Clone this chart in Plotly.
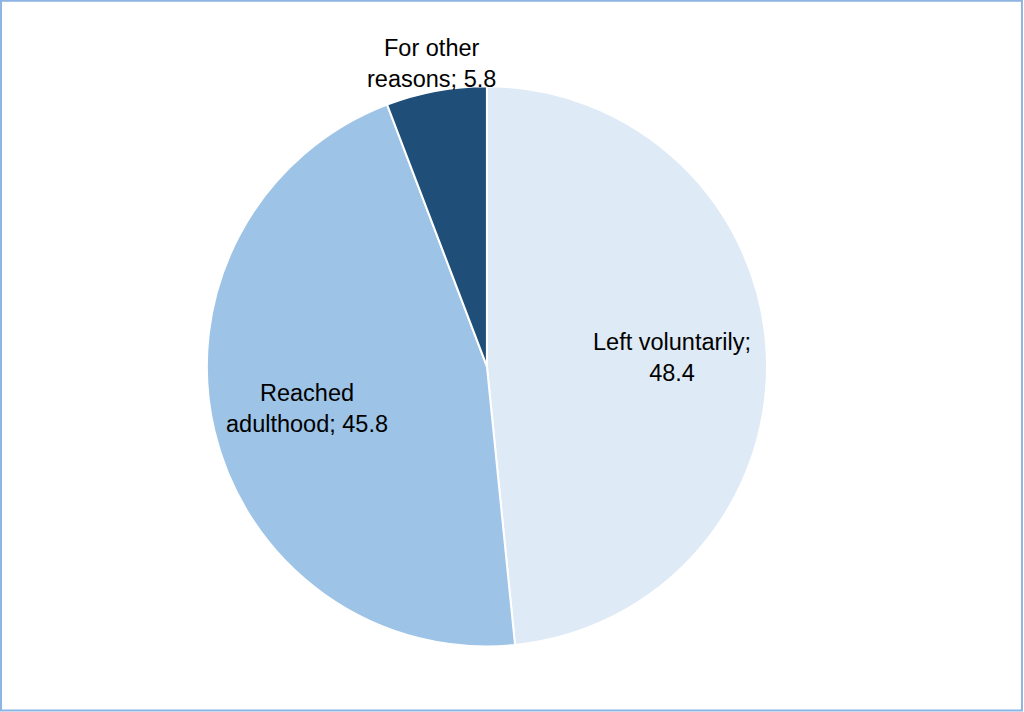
import math
import plotly.graph_objects as go

# shares of young people leaving care, by reason
reasons = ["Left voluntarily", "Reached adulthood", "For other reasons"]
shares = [48.4, 45.8, 5.8]
slice_labels = ["Left voluntarily;<br>48.4", "Reached<br>adulthood; 45.8", "For other<br>reasons; 5.8"]
colors = ["#DEEAF6", "#9DC3E6", "#1F4E79"]
label_dist = [0.66, 0.66, 1.10]  # label distance from centre, in pie radii

W, H = 1024, 712
dom_x = [0.202, 0.749]
dom_y = [0.092, 0.879]

fig = go.Figure(go.Pie(
    labels=reasons,
    values=shares,
    textinfo="none",
    sort=False,
    direction="clockwise",
    rotation=0,
    marker=dict(colors=colors, line=dict(color="white", width=2)),
    hoverinfo="label+value",
    showlegend=False,
    domain=dict(x=dom_x, y=dom_y),
))

# place the labels like excel does: along each slice's mid angle
cx = sum(dom_x) / 2
cy = sum(dom_y) / 2
r_px = min((dom_x[1] - dom_x[0]) * W, (dom_y[1] - dom_y[0]) * H) / 2
total = sum(shares)
start = 0
for lab, val, d in zip(slice_labels, shares, label_dist):
    mid = (start + val / 2) / total * 2 * math.pi
    start += val
    fig.add_annotation(
        x=cx + d * r_px * math.sin(mid) / W,
        y=cy + d * r_px * math.cos(mid) / H,
        xref="paper", yref="paper",
        xanchor="center", yanchor="middle",
        text=lab, showarrow=False, align="center",
        font=dict(family="Liberation Sans, Arial", size=23.5, color="black"),
    )

fig.update_layout(
    width=W,
    height=H,
    margin=dict(l=0, r=0, t=0, b=0),
    paper_bgcolor="white",
    plot_bgcolor="white",
    font=dict(family="Liberation Sans, Arial", size=20, color="black"),
    shapes=[dict(type="rect", xref="paper", yref="paper", x0=0.001, y0=0.002, x1=0.998, y1=0.999,
                 line=dict(color="#8DB4E2", width=2))],
)

fig.write_html("out.html", config={"displayModeBar": False},
               post_script="document.body.style.margin='0';document.body.style.overflow='hidden';")
